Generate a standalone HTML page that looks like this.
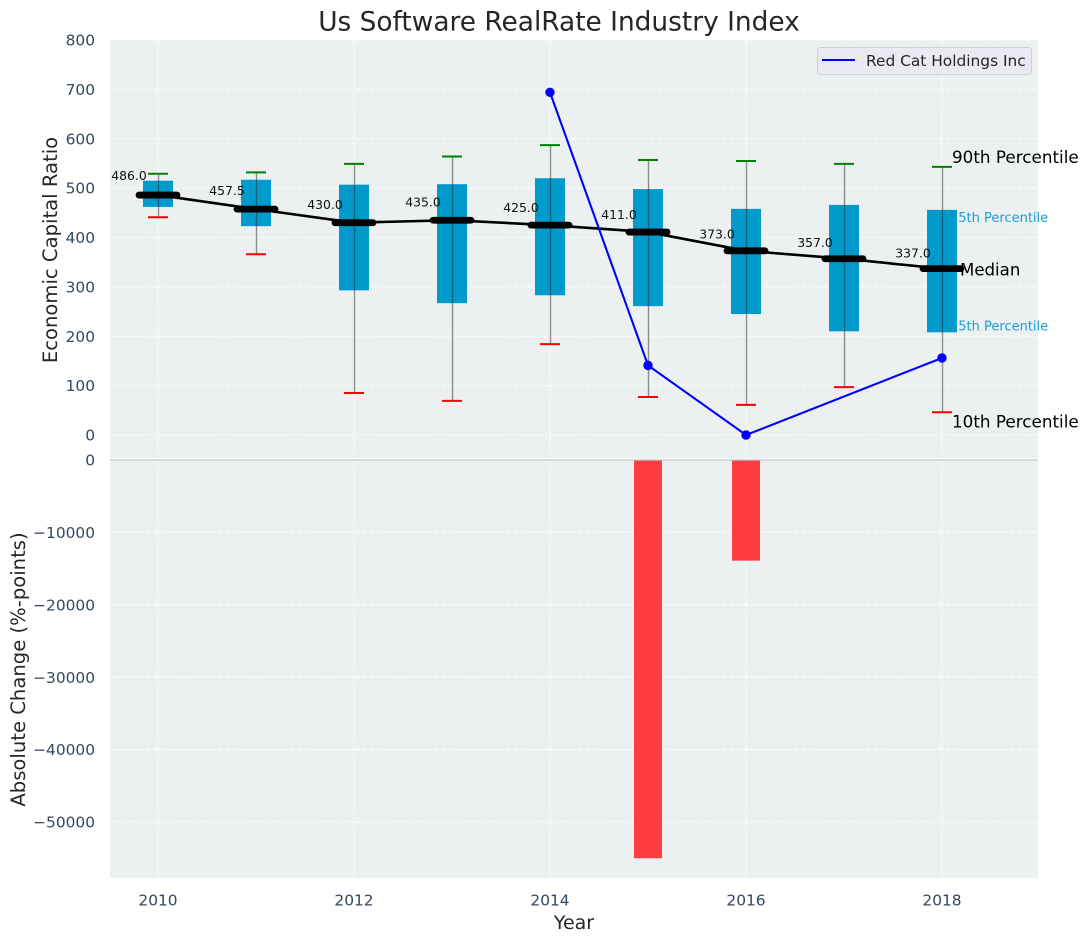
<!DOCTYPE html>
<html lang="en">
<head>
<meta charset="utf-8">
<title>Us Software RealRate Industry Index</title>
<style>
html,body{margin:0;padding:0;background:#fff;width:1087px;height:942px;overflow:hidden}
svg{display:block;font-family:"DejaVu Sans","Liberation Sans",sans-serif}
</style>
</head>
<body>
<svg id="chart" xmlns="http://www.w3.org/2000/svg" width="1087" height="942" viewBox="0 0 1087 942">
  <rect x="0" y="0" width="1087" height="942" fill="#ffffff"/>
  <rect x="110" y="40" width="928" height="838" fill="#ecf0f1"/>
  <g id="grid"></g>
  <g id="annot"></g>
  <g id="boxes"></g>
  <g id="series"></g>
  <g id="bars"></g>
  <g id="ticks"></g>
  <line x1="110" x2="1038" y1="459" y2="459" stroke="#ffffff" stroke-width="1"/>
  <line x1="110" x2="1038" y1="460" y2="460" stroke="#c4c6c7" stroke-width="1.2"/>
  <text x="559" y="30.5" text-anchor="middle" font-size="26.4" fill="#262626">Us Software RealRate Industry Index</text>
  <text transform="translate(57,250) rotate(-90)" text-anchor="middle" font-size="19.6" fill="#262626">Economic Capital Ratio</text>
  <text transform="translate(25,669.5) rotate(-90)" text-anchor="middle" font-size="19.6" fill="#262626">Absolute Change (%-points)</text>
  <text x="574" y="929" text-anchor="middle" font-size="19" fill="#262626">Year</text>
  <g>
    <rect x="817.5" y="47.5" width="214" height="27" rx="3" fill="#eaeaf2" stroke="#cfd0d4" stroke-width="1"/>
    <line x1="822" x2="855" y1="60" y2="60" stroke="#0000ff" stroke-width="2"/>
    <text x="866" y="66" font-size="15.4" fill="#262626">Red Cat Holdings Inc</text>
  </g>
</svg>
<script>
var years = [2010, 2011, 2012, 2013, 2014, 2015, 2016, 2017, 2018];
var p90 = [529, 532, 549, 564, 587, 557, 555, 549, 543];
var p75 = [515, 517, 507, 508, 520, 498, 458, 466, 456];
var medians = [486, 457.5, 430, 435, 425, 411, 373, 357, 337];
var p25 = [462, 423, 293, 267, 283, 261, 245, 210, 208];
var p10 = [441, 366, 85, 69, 184, 77, 61, 97, 46];
var companyYears = [2014, 2015, 2016, 2018];
var companyValues = [694, 141, 0, 156];
var changeYears = [2015, 2016];
var changeValues = [-55000, -13900];
var xTicks = [2010, 2012, 2014, 2016, 2018];
var upperTicks = [0, 100, 200, 300, 400, 500, 600, 700, 800];
var lowerTicks = [0, -10000, -20000, -30000, -40000, -50000];

function xScale(v) { return 158 + (v - 2010) * 98; }
function yUpper(v) { return 435 - v * 0.49375; }
function yLower(v) { return 460 - v * 0.00724; }
function labelValue(m) { return m * 1.05 + 15; }

var NS = 'http://www.w3.org/2000/svg';
function make(parent, tag, attrs, txt) {
  var el = document.createElementNS(NS, tag);
  for (var k in attrs) el.setAttribute(k, attrs[k]);
  if (txt !== undefined) el.textContent = txt;
  parent.appendChild(el);
  return el;
}
var gGrid = document.getElementById('grid');
var gAnnot = document.getElementById('annot');
var gBoxes = document.getElementById('boxes');
var gSeries = document.getElementById('series');
var gBars = document.getElementById('bars');
var gTicks = document.getElementById('ticks');
var gridStyle = {stroke: '#ffffff', 'stroke-width': 1.1, 'stroke-dasharray': '5 2.2', opacity: 0.9};
function fmtTick(v) { return v < 0 ? '\u2212' + Math.abs(v) : String(v); }

upperTicks.forEach(function (t) {
  var y = yUpper(t);
  var l = make(gGrid, 'line', Object.assign({x1: 110, x2: 1038, y1: y, y2: y}, gridStyle));
  
  
  var s = make(gTicks, 'text', {x: 95, y: y + 5.6, 'text-anchor': 'end', 'font-size': 15.4, fill: '#34495e'}, fmtTick(t));
  
  
});
lowerTicks.forEach(function (t) {
  var y = yLower(t);
  if (t !== 0) {
    var l = make(gGrid, 'line', Object.assign({x1: 110, x2: 1038, y1: y, y2: y}, gridStyle));
    
    
  }
  var s = make(gTicks, 'text', {x: 95, y: y + 5.6, 'text-anchor': 'end', 'font-size': 15.4, fill: '#34495e'}, fmtTick(t));
  
  
});
xTicks.forEach(function (t) {
  var x = xScale(t);
  var l = make(gGrid, 'line', Object.assign({x1: x, x2: x, y1: 40, y2: 878}, gridStyle));
  
  
  var s = make(gTicks, 'text', {x: x, y: 905.5, 'text-anchor': 'middle', 'font-size': 15.4, fill: '#34495e'}, String(t));
  
  
});

/* percentile annotations for the last year; the 75th and 25th labels sit behind the box */
var last = years.length - 1;
var lastX = xScale(years[last]);
var a90 = make(gAnnot, 'text', {x: lastX + 10, y: yUpper(p90[last]) - 4, 'font-size': 16.8, fill: '#000'}, '90th Percentile');


var a75 = make(gAnnot, 'text', {x: lastX + 8, y: yUpper(p75[last]) + 12, 'font-size': 13, fill: '#1a9fcf'}, '75th Percentile');


var a25 = make(gAnnot, 'text', {x: lastX + 8, y: yUpper(p25[last]) - 2, 'font-size': 13, fill: '#1a9fcf'}, '25th Percentile');


var a10 = make(gAnnot, 'text', {x: lastX + 10, y: yUpper(p10[last]) + 15, 'font-size': 16.8, fill: '#000'}, '10th Percentile');



/* boxes */
years.forEach(function (yr, i) {
  var x = xScale(yr);
  var b = make(gBoxes, 'rect', {x: x - 15, y: yUpper(p75[i]), width: 30, height: yUpper(p25[i]) - yUpper(p75[i]), fill: '#009acd'});
  
  
});
years.forEach(function (yr, i) {
  var x = xScale(yr);
  var w = make(gBoxes, 'line', {x1: x + 0.5, x2: x + 0.5, y1: yUpper(p90[i]), y2: yUpper(p10[i]), stroke: 'rgba(40,40,40,0.5)', 'stroke-width': 1.4});
  
  
  var hi = make(gBoxes, 'line', {x1: x - 10, x2: x + 10, y1: yUpper(p90[i]), y2: yUpper(p90[i]), stroke: '#008000', 'stroke-width': 2});
  
  
  var lo = make(gBoxes, 'line', {x1: x - 10, x2: x + 10, y1: yUpper(p10[i]), y2: yUpper(p10[i]), stroke: '#ff0000', 'stroke-width': 2});
  
  
});

/* median trend line */
var medPts = years.map(function (yr, i) { return xScale(yr) + ',' + yUpper(medians[i]); }).join(' ');
var medLine = make(gSeries, 'polyline', {points: medPts, fill: 'none', stroke: '#000', 'stroke-width': 2.6});


years.forEach(function (yr, i) {
  var x = xScale(yr), y = yUpper(medians[i]);
  var m = make(gSeries, 'line', {x1: x - 19, x2: x + 19, y1: y, y2: y, stroke: '#000', 'stroke-width': 6.8, 'stroke-linecap': 'round'});
  
  
  var t = make(gSeries, 'text', {x: x - 29, y: yUpper(labelValue(medians[i])) + 4.5, 'text-anchor': 'middle', 'font-size': 12.4, fill: '#111'}, medians[i].toFixed(1));
  
  
});
var aMed = make(gSeries, 'text', {x: lastX + 18, y: yUpper(medians[last]) + 7, 'font-size': 16.6, fill: '#000'}, 'Median');



/* company series */
var coPts = companyYears.map(function (yr, i) { return xScale(yr) + ',' + yUpper(companyValues[i]); }).join(' ');
var coLine = make(gSeries, 'polyline', {points: coPts, fill: 'none', stroke: '#0000ff', 'stroke-width': 2.1});


companyYears.forEach(function (yr, i) {
  var c = make(gSeries, 'circle', {cx: xScale(yr), cy: yUpper(companyValues[i]), r: 4.7, fill: '#0000ff'});
  
  
});

/* lower bars */
changeYears.forEach(function (yr, i) {
  var x = xScale(yr);
  var r = make(gBars, 'rect', {x: x - 14, y: yLower(0), width: 28, height: yLower(changeValues[i]) - yLower(0), fill: '#ff3d3f'});
  
  
});
</script>
</body>
</html>
